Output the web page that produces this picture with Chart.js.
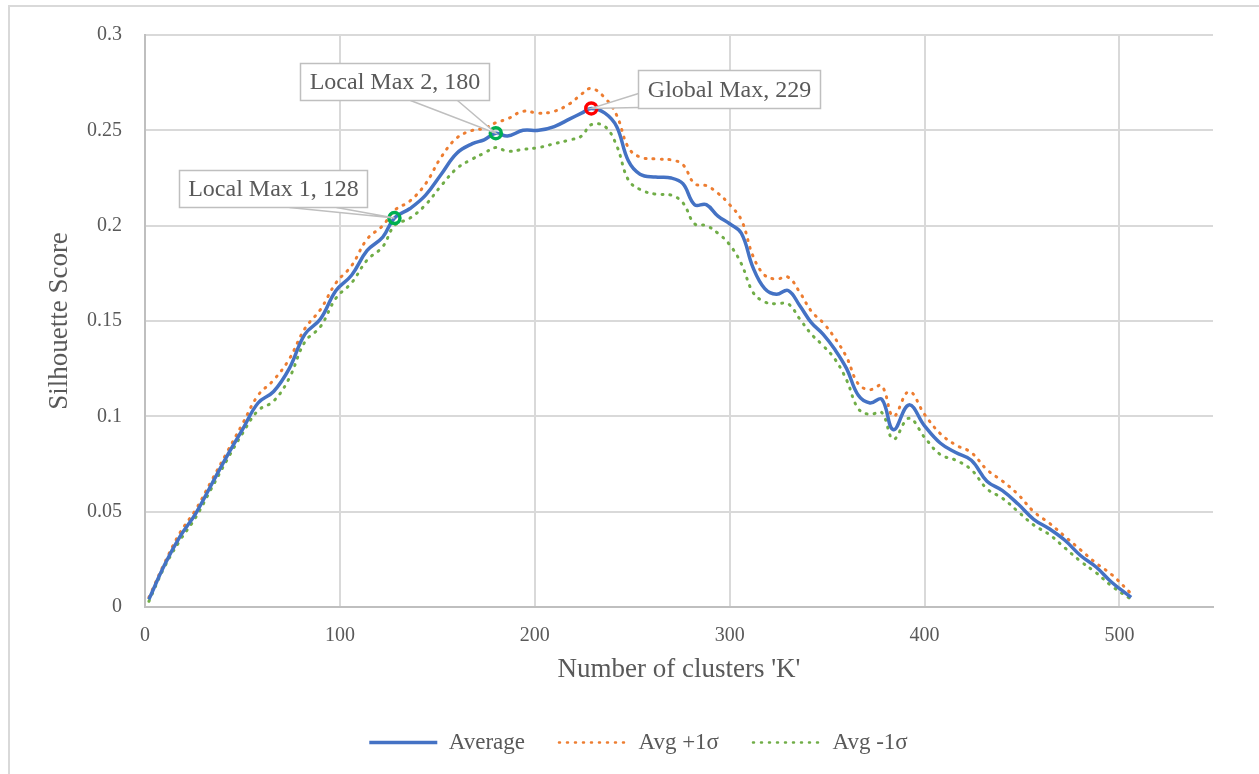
<!DOCTYPE html>
<html>
<head>
<meta charset="utf-8">
<script src="https://cdn.jsdelivr.net/npm/chart.js@4.4.1/dist/chart.umd.min.js"></script>
<style>
  html, body { margin: 0; padding: 0; background: #fff; }
  #frame { position: absolute; left: 8px; top: 5px; width: 1300px; height: 800px;
    border-left: 2px solid #d9d9d9; border-top: 2px solid #d9d9d9; }
  #chart { position: absolute; left: 0; top: 0; }
</style>
</head>
<body>
<div id="frame"></div>
<canvas id="chart" width="1259" height="774"></canvas>
<script>
// number of clusters K
const kValues = [2, 10, 18, 26, 34, 42, 50, 58, 66, 74, 82, 90, 98, 106, 114, 122, 128,
  136, 144, 152, 160, 168, 174, 180, 186, 194, 202, 210, 218, 224, 229, 236, 242, 248,
  254, 262, 270, 276, 282, 288, 294, 300, 306, 312, 318, 324, 330, 336, 342, 348, 354,
  360, 366, 372, 378, 384, 392, 400, 408, 416, 424, 432, 440, 448, 456, 464, 472, 480,
  488, 496, 506];

const average = [0.004, 0.022, 0.037, 0.049, 0.064, 0.079, 0.093, 0.107, 0.113, 0.125,
  0.143, 0.151, 0.166, 0.174, 0.187, 0.194, 0.204, 0.209, 0.216, 0.227, 0.238, 0.243,
  0.245, 0.2485, 0.247, 0.250, 0.250, 0.252, 0.256, 0.259, 0.2615, 0.259, 0.252, 0.234,
  0.227, 0.2255, 0.225, 0.222, 0.211, 0.211, 0.205, 0.201, 0.196, 0.178, 0.167, 0.164,
  0.166, 0.158, 0.149, 0.143, 0.135, 0.125, 0.111, 0.107, 0.109, 0.093, 0.106, 0.095,
  0.086, 0.081, 0.077, 0.066, 0.061, 0.054, 0.046, 0.041, 0.035, 0.027, 0.021, 0.013,
  0.005];

const plusSigma = [0.005, 0.023, 0.039, 0.051, 0.066, 0.081, 0.096, 0.111, 0.119, 0.130,
  0.146, 0.156, 0.170, 0.179, 0.193, 0.200, 0.208, 0.213, 0.222, 0.236, 0.246, 0.250,
  0.251, 0.254, 0.256, 0.260, 0.259, 0.260, 0.264, 0.269, 0.272, 0.267, 0.258, 0.241,
  0.236, 0.235, 0.2345, 0.232, 0.222, 0.221, 0.217, 0.211, 0.203, 0.184, 0.174, 0.172,
  0.173, 0.165, 0.155, 0.149, 0.141, 0.131, 0.117, 0.114, 0.116, 0.100, 0.113, 0.101,
  0.091, 0.085, 0.081, 0.072, 0.066, 0.059, 0.050, 0.044, 0.037, 0.030, 0.023, 0.017,
  0.007];

const minusSigma = [0.003, 0.021, 0.035, 0.047, 0.062, 0.077, 0.091, 0.103, 0.108, 0.120,
  0.139, 0.147, 0.162, 0.170, 0.182, 0.189, 0.200, 0.204, 0.211, 0.221, 0.230, 0.235,
  0.238, 0.241, 0.239, 0.240, 0.241, 0.243, 0.245, 0.247, 0.253, 0.252, 0.242, 0.224,
  0.219, 0.2165, 0.216, 0.212, 0.201, 0.200, 0.196, 0.190, 0.180, 0.165, 0.160, 0.159,
  0.159, 0.151, 0.143, 0.137, 0.130, 0.119, 0.104, 0.101, 0.102, 0.088, 0.099, 0.089,
  0.080, 0.077, 0.072, 0.062, 0.057, 0.050, 0.043, 0.038, 0.031, 0.024, 0.018, 0.011,
  0.004];

const seriesNames = ['Average', 'Avg +1\u03c3', 'Avg -1\u03c3'];
const seriesColors = ['#4472C4', '#ED7D31', '#70AD47'];

// highlighted maxima on the average curve
const maxima = [
  { k: 128, name: 'Local Max 1', color: '#00B050' },
  { k: 180, name: 'Local Max 2', color: '#00B050' },
  { k: 229, name: 'Global Max', color: '#FF0000' }
];

// callout boxes, offsets in px from the marked point
const callouts = [
  { k: 128, dx: -215, dy: -48, w: 188, h: 37, base: [[110, 37], [157, 37]] },
  { k: 180, dx: -196, dy: -70, w: 189, h: 37, base: [[110, 37], [157, 37]] },
  { k: 229, dx: 47, dy: -38, w: 182, h: 38, base: [[0, 23], [0, 37]] }
];

const serif = "'Liberation Serif', 'Times New Roman', serif";
Chart.defaults.font.family = serif;
Chart.defaults.color = '#595959';

function toPoints(values) {
  return kValues.map((k, i) => ({ x: k, y: values[i] }));
}

function maxAt(index) {
  return maxima.find(m => m.k === kValues[index]);
}

const calloutPlugin = {
  id: 'callouts',
  afterLayout(chart) {
    // nudge the legend row to the right, as in the source chart
    chart.legend.left += 64;
  },
  afterDatasetsDraw(chart) {
    const { ctx, scales: { x, y } } = chart;
    ctx.save();
    ctx.font = '24px ' + serif;
    ctx.textAlign = 'center';
    ctx.textBaseline = 'middle';
    ctx.lineWidth = 1.5;
    ctx.strokeStyle = '#bfbfbf';
    for (const c of callouts) {
      const m = maxima.find(item => item.k === c.k);
      const i = kValues.indexOf(c.k);
      const px = x.getPixelForValue(c.k);
      const py = y.getPixelForValue(average[i]);
      const bx = Math.round(px + c.dx) + 0.5;
      const by = Math.round(py + c.dy) + 0.5;
      ctx.beginPath();
      ctx.moveTo(bx + c.base[0][0], by + c.base[0][1]);
      ctx.lineTo(px, py);
      ctx.lineTo(bx + c.base[1][0], by + c.base[1][1]);
      ctx.fillStyle = '#fff';
      ctx.fill();
      ctx.stroke();
      ctx.fillRect(bx, by, c.w, c.h);
      ctx.strokeRect(bx, by, c.w, c.h);
      ctx.fillStyle = '#595959';
      ctx.fillText(m.name + ', ' + m.k, bx + c.w / 2, by + c.h / 2 + 1);
    }
    ctx.restore();
  }
};

new Chart(document.getElementById('chart'), {
  type: 'line',
  data: {
    datasets: [
      {
        label: seriesNames[0],
        data: toPoints(average),
        borderColor: seriesColors[0],
        backgroundColor: seriesColors[0],
        borderWidth: 3.5,
        tension: 0.4,
        pointRadius: ctx => (maxAt(ctx.dataIndex) ? 5.5 : 0),
        pointBorderWidth: 3.5,
        pointBorderColor: ctx => (maxAt(ctx.dataIndex) || {}).color || seriesColors[0],
        pointBackgroundColor: 'rgba(255,255,255,0)',
        order: 0
      },
      {
        label: seriesNames[1],
        data: toPoints(plusSigma),
        borderColor: seriesColors[1],
        backgroundColor: seriesColors[1],
        borderWidth: 3,
        borderDash: [1, 7],
        borderCapStyle: 'round',
        tension: 0.4,
        pointRadius: 0,
        order: 1
      },
      {
        label: seriesNames[2],
        data: toPoints(minusSigma),
        borderColor: seriesColors[2],
        backgroundColor: seriesColors[2],
        borderWidth: 3,
        borderDash: [1, 7],
        borderCapStyle: 'round',
        tension: 0.4,
        pointRadius: 0,
        order: 2
      }
    ]
  },
  options: {
    responsive: false,
    animation: false,
    devicePixelRatio: 1,
    layout: { padding: { top: 35, right: 46, bottom: 10, left: 0 } },
    scales: {
      x: {
        type: 'linear',
        min: 0,
        max: 548,
        afterFit: scale => { scale.height = 90; },
        ticks: { stepSize: 100, includeBounds: false, padding: 17, font: { size: 20 } },
        grid: { color: '#d9d9d9', lineWidth: 2, drawTicks: false },
        border: { color: '#bfbfbf', width: 2 },
        title: {
          display: true,
          text: "Number of clusters 'K'",
          font: { size: 27 },
          padding: { top: 0, bottom: 11 }
        }
      },
      y: {
        min: 0,
        max: 0.3,
        afterFit: scale => { scale.width = 145; },
        ticks: {
          stepSize: 0.05,
          padding: 23,
          font: { size: 20 },
          callback: value => String(+value.toFixed(2))
        },
        grid: { color: '#d9d9d9', lineWidth: 2, drawTicks: false },
        border: { color: '#bfbfbf', width: 2 },
        title: {
          display: true,
          text: 'Silhouette Score',
          font: { size: 27 },
          padding: { top: 44, bottom: 0 }
        }
      }
    },
    plugins: {
      legend: {
        position: 'bottom',
        labels: {
          usePointStyle: true,
          pointStyle: 'line',
          pointStyleWidth: 68,
          padding: 34,
          font: { size: 23 },
          color: '#595959',
          generateLabels: chart => Chart.defaults.plugins.legend.labels.generateLabels(chart)
            .map((item, i) => {
              const ds = chart.data.datasets[i];
              item.strokeStyle = ds.borderColor;
              item.lineWidth = i === 0 ? 3.5 : 2.5;
              item.lineDash = ds.borderDash || [];
              item.lineCap = ds.borderCapStyle || 'butt';
              return item;
            })
        }
      },
      tooltip: { enabled: false }
    }
  },
  plugins: [calloutPlugin]
});
</script>
</body>
</html>
